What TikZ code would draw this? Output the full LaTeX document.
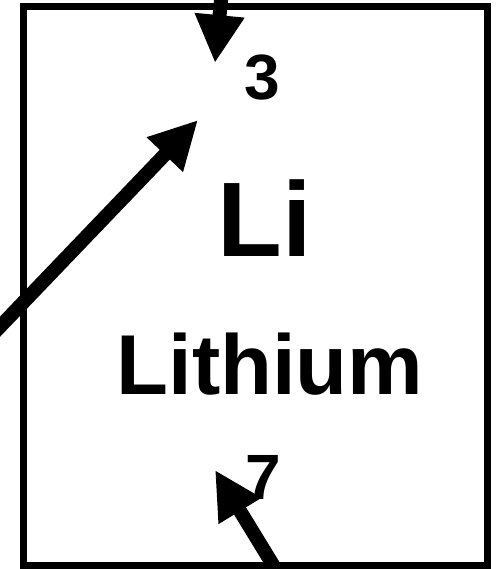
\documentclass[tikz,border=0pt]{standalone}
\usepackage{fontspec}
\setmainfont{Liberation Sans}
\usetikzlibrary{arrows.meta}

\tikzset{
  cellbox/.style={draw, line width=5.25pt, inner sep=0pt,
    minimum width=348pt, minimum height=419.25pt},
  bigarrow/.style={line width=10.5pt,
    -{Triangle[length=36pt, width=35pt]}},
  elem/.style={inner sep=0pt, anchor=base, font=\bfseries}
}

\begin{document}
\begin{tikzpicture}[x=0.75pt, y=-0.75pt]
\useasboundingbox (0,0) rectangle (496,569);
\node[cellbox] (cell) at (255.5,286) {};
\node[elem, font=\bfseries\fontsize{48}{48}\selectfont] (num) at (262.5,99) {3};
\node[elem, font=\bfseries\fontsize{79.5}{80}\selectfont] (sym) at (265,256) {Li};
\node[elem, font=\bfseries\fontsize{63.75}{64}\selectfont] (name) at (270,394) {Lithium};
\node[elem, font=\bfseries\fontsize{48}{48}\selectfont] (mass) at (263.5,499) {7};
\coordinate (topin) at (222,-10);
\coordinate (topout) at (215,63);
\coordinate (leftin) at (-8,335);
\coordinate (leftout) at (198,120);
\coordinate (botin) at (281,578);
\coordinate (botout) at (215,470);
\draw[bigarrow] (topin) -- (topout);
\draw[bigarrow] (leftin) -- (leftout);
\draw[bigarrow] (botin) -- (botout);
\end{tikzpicture}
\end{document}
